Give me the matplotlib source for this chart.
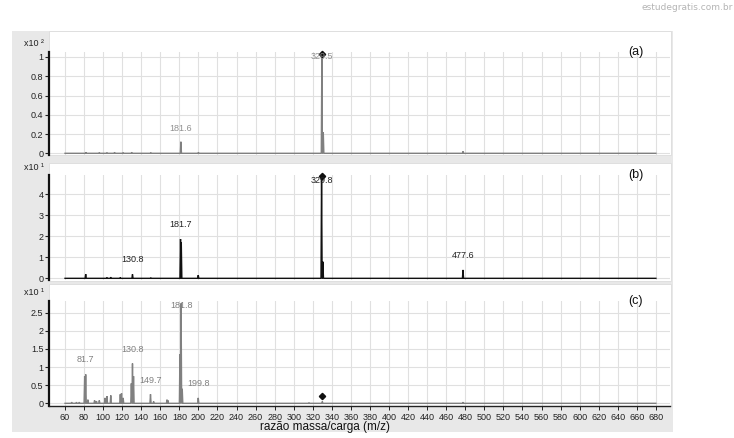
import numpy as np
import matplotlib
matplotlib.use("Agg")
import matplotlib.pyplot as plt
from matplotlib.patches import Rectangle

plt.rcParams['font.family'] = ['Liberation Sans', 'DejaVu Sans']

# spectra: m/z of each peak and its height (in units of the panel multiplier)
mz_a = [82, 96, 104, 112, 121, 130, 150, 181.6, 200, 329.5, 331, 477.6]
int_a = [0.01, 0.008, 0.008, 0.01, 0.008, 0.01, 0.008, 0.12, 0.01, 1.0, 0.22, 0.02]

mz_b = [81.7, 104, 108, 118, 130.8, 150, 181.2, 182.0, 199.8, 329.2, 330.6, 477.6]
int_b = [0.2, 0.04, 0.05, 0.04, 0.19, 0.03, 1.87, 1.7, 0.15, 4.92, 0.79, 0.4]

mz_c = [67, 72, 75, 80.6, 81.7, 84, 91, 93, 96, 102, 104, 108, 118, 119.3, 121,
        129.6, 130.8, 131.9, 149.7, 153, 167, 168, 180.6, 181.8, 183, 199.8,
        316, 330, 477.6]
int_c = [0.03, 0.03, 0.03, 0.75, 0.8, 0.1, 0.08, 0.06, 0.08, 0.15, 0.2, 0.22,
         0.25, 0.28, 0.15, 0.55, 1.1, 0.75, 0.25, 0.05, 0.1, 0.08, 1.36, 2.76,
         0.4, 0.15, 0.02, 0.05, 0.03]

labels_a = [(181.6, 0.26, '181.6'), (329.5, 1.0, '329.5')]
labels_b = [(130.8, 0.9, '130.8'), (181.7, 2.58, '181.7'), (329.8, 4.65, '329.8'), (477.6, 1.08, '477.6')]
labels_c = [(81.7, 1.2, '81.7'), (130.8, 1.49, '130.8'), (149.7, 0.64, '149.7'),
            (181.8, 2.7, '181.8'), (199.8, 0.54, '199.8')]

markers_a = (329.5, 1.03)
markers_b = (329.5, 4.85)
markers_c = (330, 0.2)

panel_tags = ['(a)', '(b)', '(c)']
mults = ['x10 \u00b2', 'x10 \u00b9', 'x10 \u00b9']
yticks_a = [0, 0.2, 0.4, 0.6, 0.8, 1]
yticks_b = [0, 1, 2, 3, 4]
yticks_c = [0, 0.5, 1, 1.5, 2, 2.5]
xticks = list(range(60, 681, 20))

W, H = 734, 438
fig = plt.figure(figsize=(W / 100, H / 100), dpi=100)


def fig_rect(x0, y0, x1, y1):
    # pixel box (top-left origin) -> figure fraction
    return [x0 / W, 1 - y1 / H, (x1 - x0) / W, (y1 - y0) / H]


def profile(mz, inten, w=0.6):
    xs, ys = [60], [0]
    for m, h in sorted(zip(mz, inten)):
        xs += [m - w, m, m + w]
        ys += [0, h, 0]
    xs.append(680)
    ys.append(0)
    return np.array(xs), np.array(ys)


# grey frame
fig.patches.append(Rectangle((12 / W, 1 - 432 / H), (673 - 12) / W, (432 - 31) / H,
                             transform=fig.transFigure, facecolor='#e8e8e8',
                             edgecolor='none', zorder=-2))

panels = [
    dict(white=(31, 155), ax=(51.7, 154.5), ylim=(-0.0125, 1.055), mz=mz_a, inten=int_a,
         color='#808080', labels=labels_a, lcol='#909090', mk=markers_a, yt=yticks_a, ytl=['0', '0.2', '0.4', '0.6', '0.8', '1']),
    dict(white=(163, 281), ax=(175, 280), ylim=(-0.08, 4.92), mz=mz_b, inten=int_b,
         color='#111111', labels=labels_b, lcol='#222222', mk=markers_b, yt=yticks_b, ytl=['0', '1', '2', '3', '4']),
    dict(white=(284, 405.7), ax=(300.7, 405.7), ylim=(-0.066, 2.834), mz=mz_c, inten=int_c,
         color='#808080', labels=labels_c, lcol='#808080', mk=markers_c, yt=yticks_c, ytl=['0', '0.5', '1', '1.5', '2', '2.5']),
]

for i, p in enumerate(panels):
    fig.patches.append(Rectangle((49 / W, 1 - p['white'][1] / H), (671 - 49) / W,
                                 (p['white'][1] - p['white'][0]) / H,
                                 transform=fig.transFigure, facecolor='white',
                                 edgecolor='#dcdcdc', lw=0.6, zorder=-1))
    ax = fig.add_axes(fig_rect(49, p['ax'][0], 670, p['ax'][1]))
    ax.set_facecolor('none')
    ax.set_xlim(43.2, 694.8)
    ax.set_ylim(*p['ylim'])
    ax.set_xticks(xticks)
    ax.set_yticks(p['yt'])
    ax.set_yticklabels(p['ytl'])
    ax.grid(True, color='#e0e0e0', lw=0.8)
    ax.set_axisbelow(True)
    for s in ['top', 'right']:
        ax.spines[s].set_visible(False)
    ax.spines['left'].set_color('#111111')
    ax.spines['left'].set_linewidth(1.6)
    ax.tick_params(axis='y', length=3, width=0.8, labelsize=6.5, pad=1, colors='#222222')
    if i < 2:
        ax.spines['bottom'].set_visible(False)
        ax.tick_params(axis='x', length=0, labelbottom=False)
    else:
        ax.spines['bottom'].set_color('#222222')
        ax.spines['bottom'].set_linewidth(1.0)
        ax.tick_params(axis='x', length=3, width=0.7, labelsize=6.5, pad=2, colors='#222222')

    xs, ys = profile(p['mz'], p['inten'])
    ax.plot(xs, ys, color=p['color'], lw=1.0, solid_joinstyle='miter')
    for x, y, t in p['labels']:
        ax.text(x, y, t, ha='center', va='center', fontsize=6.5, color=p['lcol'])
    ax.plot(*p['mk'], marker='D', ms=3.2, color='#111111', clip_on=False)
    ax.text(659, p['ylim'][1], panel_tags[i], ha='center', va='center', fontsize=9, color='#111111')
    fig.text(34 / W, 1 - (p['ax'][0] - 8) / H, mults[i], ha='center', va='center',
             fontsize=6.5, color='#222222')

fig.text(325 / W, 1 - 427 / H, 'razão massa/carga (m/z)', ha='center', va='center',
         fontsize=8.5, color='#111111')
fig.text(733 / W, 1 - 8 / H, 'estudegratis.com.br', ha='right', va='center',
         fontsize=6.5, color='#b4b4b4', family='DejaVu Sans')

fig.savefig('out.png', dpi=100)
